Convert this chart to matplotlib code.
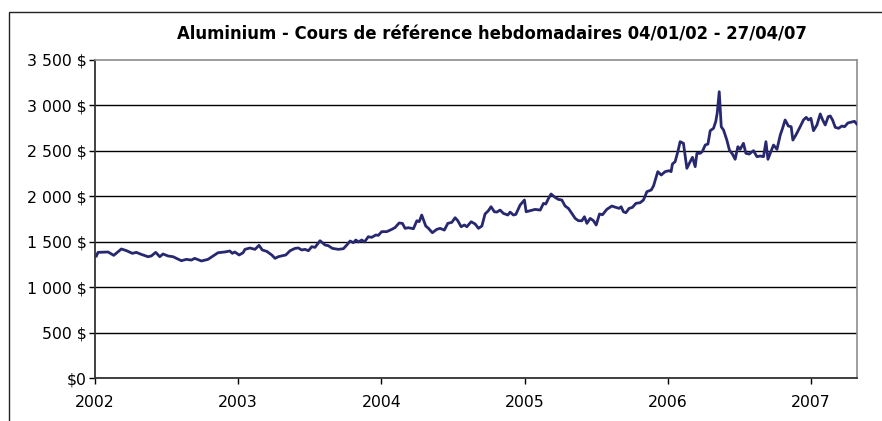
"""Aluminium weekly reference price, Jan 2002 - Apr 2007 (Excel-style line chart)."""

import matplotlib

matplotlib.use("Agg")
import matplotlib.pyplot as plt
from matplotlib.patches import Rectangle
from matplotlib.ticker import FuncFormatter


TITLE = "Aluminium - Cours de référence hebdomadaires 04/01/02 - 27/04/07"

# position in years after 1 Jan 2002
YEAR_OFFSET = [
    0.010, 0.021, 0.091, 0.131, 0.184, 0.219, 0.261, 0.288, 0.323, 0.370,
    0.393, 0.424, 0.452, 0.475, 0.510, 0.545, 0.603, 0.638, 0.673, 0.696,
    0.743, 0.789, 0.859, 0.906, 0.941, 0.959, 0.976, 1.006, 1.034, 1.047,
    1.082, 1.117, 1.145, 1.168, 1.199, 1.234, 1.257, 1.280, 1.308, 1.332,
    1.362, 1.397, 1.420, 1.443, 1.466, 1.490, 1.513, 1.536, 1.571, 1.606,
    1.629, 1.657, 1.699, 1.734, 1.758, 1.781, 1.804, 1.821, 1.839, 1.862,
    1.881, 1.908, 1.932, 1.960, 1.978, 2.002, 2.037, 2.072, 2.095, 2.123,
    2.146, 2.165, 2.188, 2.223, 2.247, 2.263, 2.281, 2.309, 2.328, 2.355,
    2.386, 2.409, 2.439, 2.463, 2.491, 2.514, 2.533, 2.556, 2.579, 2.596,
    2.626, 2.654, 2.677, 2.701, 2.723, 2.746, 2.765, 2.788, 2.805, 2.828,
    2.851, 2.882, 2.898, 2.921, 2.938, 2.968, 2.998, 3.010, 3.038, 3.073,
    3.108, 3.131, 3.147, 3.166, 3.184, 3.212, 3.235, 3.259, 3.282, 3.305,
    3.329, 3.352, 3.375, 3.399, 3.417, 3.434, 3.457, 3.480, 3.499, 3.522,
    3.543, 3.573, 3.608, 3.636, 3.659, 3.673, 3.689, 3.706, 3.729, 3.752,
    3.776, 3.806, 3.829, 3.853, 3.883, 3.899, 3.929, 3.953, 3.980, 4.008,
    4.022, 4.031, 4.050, 4.069, 4.085, 4.108, 4.132, 4.155, 4.171, 4.190,
    4.202, 4.225, 4.241, 4.260, 4.279, 4.295, 4.318, 4.334, 4.344, 4.358,
    4.372, 4.388, 4.411, 4.429, 4.450, 4.469, 4.488, 4.504, 4.527, 4.544,
    4.567, 4.597, 4.621, 4.644, 4.667, 4.684, 4.698, 4.721, 4.737, 4.761,
    4.784, 4.800, 4.818, 4.841, 4.860, 4.872, 4.893, 4.923, 4.946, 4.965,
    4.981, 4.998, 5.016, 5.040, 5.063, 5.080, 5.098, 5.119, 5.133, 5.149,
    5.168, 5.191, 5.214, 5.233, 5.256, 5.284, 5.302, 5.318,
]

PRICE_USD = [
    1343, 1383, 1387, 1350, 1420, 1402, 1372, 1383, 1361, 1335,
    1343, 1383, 1335, 1365, 1343, 1335, 1291, 1306, 1298, 1317,
    1288, 1306, 1379, 1387, 1398, 1372, 1387, 1354, 1379, 1416,
    1431, 1416, 1460, 1409, 1394, 1354, 1317, 1335, 1346, 1354,
    1401, 1427, 1431, 1409, 1416, 1401, 1445, 1438, 1511, 1464,
    1456, 1427, 1416, 1423, 1464, 1508, 1489, 1519, 1497, 1519,
    1497, 1555, 1548, 1574, 1570, 1611, 1611, 1636, 1656, 1706,
    1702, 1647, 1654, 1643, 1731, 1720, 1794, 1673, 1647, 1599,
    1636, 1647, 1628, 1702, 1713, 1764, 1731, 1665, 1684, 1665,
    1720, 1695, 1647, 1673, 1805, 1841, 1885, 1830, 1826, 1848,
    1812, 1794, 1826, 1794, 1801, 1904, 1959, 1830, 1841, 1856,
    1848, 1922, 1915, 1977, 2025, 1988, 1966, 1959, 1893, 1867,
    1812, 1757, 1731, 1731, 1775, 1702, 1757, 1731, 1684, 1805,
    1797, 1856, 1893, 1878, 1867, 1885, 1830, 1819, 1867, 1878,
    1922, 1930, 1959, 2051, 2069, 2113, 2271, 2234, 2271, 2282,
    2271, 2355, 2381, 2491, 2601, 2583, 2308, 2381, 2429, 2326,
    2473, 2473, 2495, 2564, 2575, 2722, 2748, 2825, 2917, 3151,
    2766, 2729, 2619, 2509, 2465, 2407, 2546, 2517, 2583, 2473,
    2465, 2502, 2436, 2443, 2436, 2601, 2407, 2502, 2564, 2517,
    2674, 2748, 2840, 2773, 2766, 2619, 2674, 2766, 2840, 2869,
    2840, 2858, 2722, 2785, 2906, 2840, 2785, 2877, 2884, 2840,
    2759, 2748, 2773, 2766, 2807, 2818, 2825, 2796,
]

YEAR_TICKS = [2002, 2003, 2004, 2005, 2006, 2007]
PRICE_TICKS = [0, 500, 1000, 1500, 2000, 2500, 3000, 3500]


def dollars(value, _pos):
    if value == 0:
        return "$0"
    return f"{int(value):,} $".replace(",", " ")


def main() -> None:
    plt.rcParams.update({"font.family": "DejaVu Sans"})
    figure = plt.figure(figsize=(8.82, 4.21), dpi=100)
    axis = figure.add_axes([0.1077, 0.1021, 0.8640, 0.7554])

    # chart-area frame, cut off on the right and bottom like the source
    figure.patches.append(
        Rectangle(
            (9 / 882, -0.2),
            1.2,
            1.2 - 12.3 / 421,
            transform=figure.transFigure,
            fill=False,
            edgecolor="#222222",
            linewidth=1.0,
        )
    )

    years = [2002 + offset for offset in YEAR_OFFSET]
    axis.plot(years, PRICE_USD, color="#27286F", linewidth=2.0, solid_joinstyle="round", zorder=3)

    axis.set_xlim(2002, 2007.32)
    axis.set_ylim(0, 3500)
    axis.set_xticks(YEAR_TICKS)
    axis.set_xticklabels([str(year) for year in YEAR_TICKS])
    axis.set_yticks(PRICE_TICKS)
    axis.yaxis.set_major_formatter(FuncFormatter(dollars))
    axis.grid(True, axis="y", color="black", linewidth=1.0, zorder=1)
    # no black rule on the grey top edge
    axis.yaxis.get_gridlines()[-1].set_visible(False)
    axis.tick_params(axis="y", direction="out", length=4, width=1, pad=2, labelsize=11.3)
    axis.tick_params(axis="x", direction="out", length=4, width=1, pad=8, labelsize=11.3)

    for side in ("top", "right"):
        axis.spines[side].set_color("#8C8C8C")
        axis.spines[side].set_linewidth(1.2)
    for side in ("left", "bottom"):
        axis.spines[side].set_color("#333333")
        axis.spines[side].set_linewidth(1.3)

    figure.text(0.558, 0.919, TITLE, ha="center", va="center", fontsize=11.9, fontweight="bold")

    figure.savefig("out.png", dpi=100)
    plt.close(figure)


if __name__ == "__main__":
    main()
